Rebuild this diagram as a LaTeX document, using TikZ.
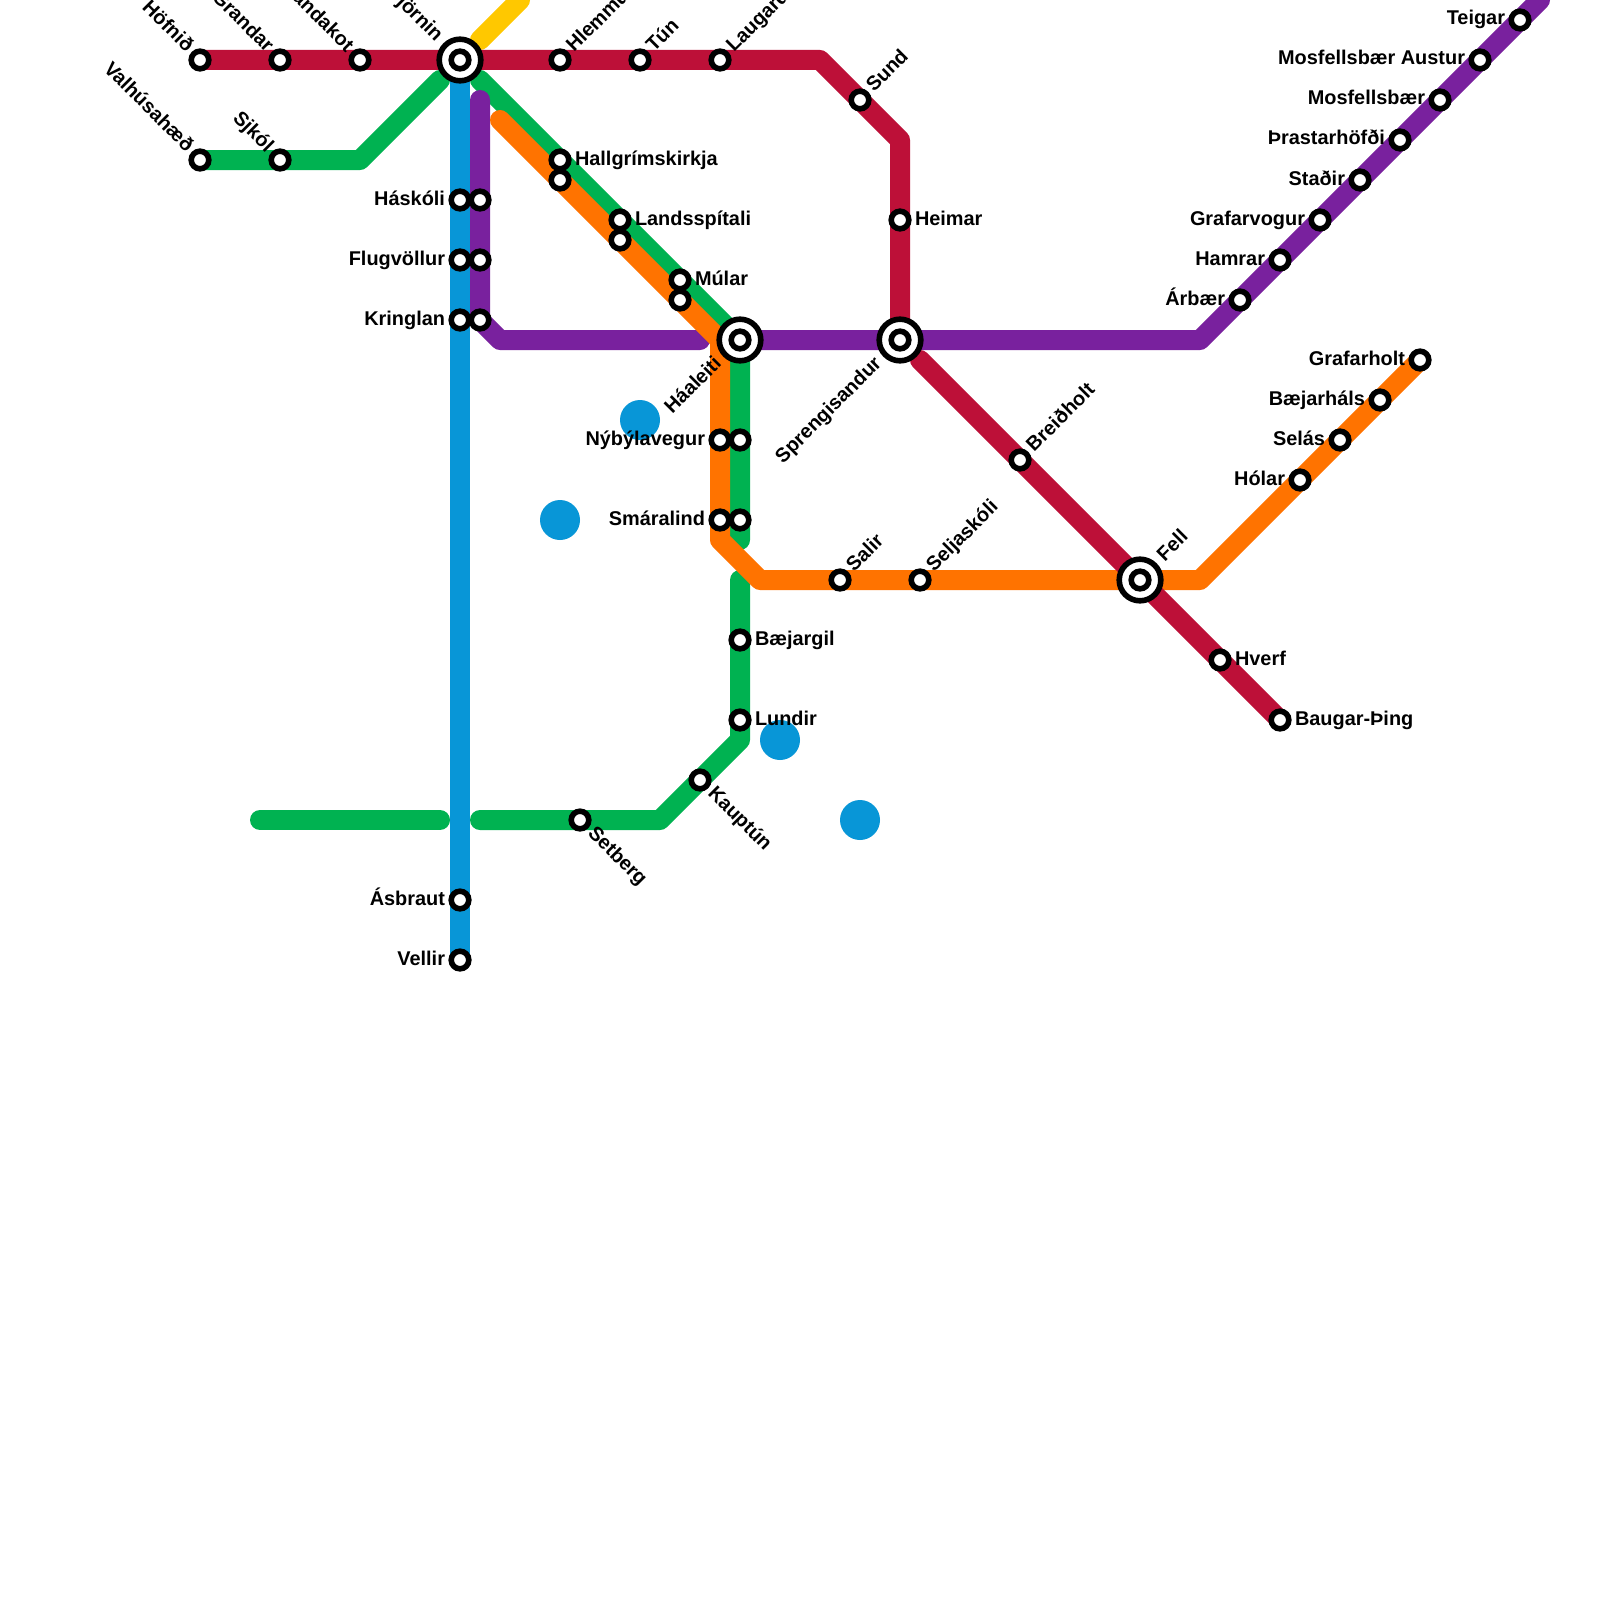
\documentclass[tikz,border=0pt]{standalone}
\usepackage{fontspec}
\setmainfont{Liberation Sans}
\definecolor{cred}{HTML}{BD1038}
\definecolor{cgreen}{HTML}{00B251}
\definecolor{cblue}{HTML}{0896D7}
\definecolor{cpurple}{HTML}{79219E}
\definecolor{corange}{HTML}{FF7300}
\definecolor{cyellow}{HTML}{FFC800}
\tikzset{
  x=1pt,y=-1pt,
  metro/.style={line width=20pt,line cap=round,line join=round},
  stn/.style={circle,draw=black,fill=white,line width=5.6pt,minimum size=17.6pt,inner sep=0pt,outer sep=0pt},
  hub/.style={circle,draw=black,fill=white,line width=5.6pt,minimum size=41.6pt,inner sep=0pt,outer sep=0pt},
  bluedot/.style={circle,fill=cblue,minimum size=40pt,inner sep=0pt,outer sep=0pt},
  lbl/.style={font=\bfseries\fontsize{19.9pt}{22pt}\selectfont,inner sep=0pt,outer sep=0pt,text=black},
}
\newcommand{\lblR}[4]{\node[lbl,rotate=#3,anchor=base west] at ([shift={(#3:15pt)},shift={(#3-90:5pt)}]#1) {#2};}
\newcommand{\lblL}[4]{\node[lbl,rotate=#3,anchor=base east] at ([shift={(#3+180:15pt)},shift={(#3-90:5pt)}]#1) {#2};}
\newcommand{\lblRH}[3]{\node[lbl,rotate=#3,anchor=base west] at ([shift={(#3:30pt)},shift={(#3-90:5pt)}]#1) {#2};}
\newcommand{\lblLH}[3]{\node[lbl,rotate=#3,anchor=base east] at ([shift={(#3+180:30pt)},shift={(#3-90:5pt)}]#1) {#2};}
\begin{document}
\begin{tikzpicture}
\useasboundingbox (0,0) rectangle (1600,1600);
\clip (0,0) rectangle (1600,1600);
\fill[white] (0,0) rectangle (1600,1600);
% blue dots
\node[bluedot] (d1) at (640,420) {};
\node[bluedot] (d2) at (560,520) {};
\node[bluedot] (d3) at (780,740) {};
\node[bluedot] (d4) at (860,820) {};
% lines
\draw[metro,cblue] (460,60) -- (460,960);
\draw[metro,cyellow] (480,40) -- (520,0);
\draw[metro,cgreen] (200,160) -- (360,160) -- (440,80);
\draw[metro,cgreen] (480,80) -- (740,340) -- (740,540);
\draw[metro,cgreen] (740,580) -- (740,740) -- (660,820) -- (480,820);
\draw[metro,cgreen] (260,820) -- (440,820);
\draw[metro,cpurple] (480,100) -- (480,320) -- (500,340) -- (700,340);
\draw[metro,cpurple] (760,340) -- (1200,340) -- (1540,0);
\draw[metro,corange] (500,120) -- (720,340) -- (720,540) -- (760,580) -- (1200,580) -- (1420,360);
\draw[metro,cred] (200,60) -- (820,60) -- (900,140) -- (900,320);
\draw[metro,cred] (920,360) -- (1280,720);
% hubs
\node[hub] (tjornin) at (460,60) {};
\node[hub] (haaleiti) at (740,340) {};
\node[hub] (spreng) at (900,340) {};
\node[hub] (fell) at (1140,580) {};
% stations
\foreach \n/\x/\y in {hofn/200/60,grandar/280/60,landakot/360/60,tj/460/60,hlemm/560/60,tun/640/60,laugar/720/60,sund/860/100,heimar/900/220,sp/900/340,breid/1020/460,fe/1140/580,hverf/1220/660,baugar/1280/720,
 valh/200/160,sjkol/280/160,hall/560/160,hallb/560/180,land/620/220,landb/620/240,mular/680/280,mularb/680/300,ha/740/340,
 nybA/720/440,nybB/740/440,smaA/720/520,smaB/740/520,baej/740/640,lund/740/720,kaup/700/780,setb/580/820,
 hask/460/200,haskB/480/200,flug/460/260,flugB/480/260,kring/460/320,kringB/480/320,asb/460/900,vell/460/960,
 salir/840/580,selj/920/580,holar/1300/480,selas/1340/440,baejh/1380/400,grafh/1420/360,
 arb/1240/300,hamr/1280/260,grafv/1320/220,stad/1360/180,thra/1400/140,mosf/1440/100,mosfa/1480/60,teig/1520/20}
  {\node[stn] (\n) at (\x,\y) {};}
% labels
\lblL{hofn}{Höfnið}{-45}{}
\lblL{grandar}{Grandar}{-45}{}
\lblL{landakot}{Landakot}{-45}{}
\lblLH{tjornin}{Tjörnin}{-45}
\lblR{hlemm}{Hlemmur}{45}{}
\lblR{tun}{Tún}{45}{}
\lblR{laugar}{Laugardalur}{45}{}
\lblR{sund}{Sund}{45}{}
\lblR{heimar}{Heimar}{0}{}
\lblLH{spreng}{Sprengisandur}{45}
\lblR{breid}{Breiðholt}{45}{}
\lblRH{fell}{Fell}{45}
\lblR{hverf}{Hverf}{0}{}
\lblR{baugar}{Baugar-Þing}{0}{}
\lblL{valh}{Valhúsahæð}{-45}{}
\lblL{sjkol}{Sjkól}{-45}{}
\lblR{hall}{Hallgrímskirkja}{0}{}
\lblR{land}{Landsspítali}{0}{}
\lblR{mular}{Múlar}{0}{}
\lblLH{haaleiti}{Háaleiti}{45}
\lblL{nybA}{Nýbýlavegur}{0}{}
\lblL{smaA}{Smáralind}{0}{}
\lblR{baej}{Bæjargil}{0}{}
\lblR{lund}{Lundir}{0}{}
\lblR{kaup}{Kauptún}{-45}{}
\lblR{setb}{Setberg}{-45}{}
\lblL{hask}{Háskóli}{0}{}
\lblL{flug}{Flugvöllur}{0}{}
\lblL{kring}{Kringlan}{0}{}
\lblL{asb}{Ásbraut}{0}{}
\lblL{vell}{Vellir}{0}{}
\lblR{salir}{Salir}{45}{}
\lblR{selj}{Seljaskóli}{45}{}
\lblL{holar}{Hólar}{0}{}
\lblL{selas}{Selás}{0}{}
\lblL{baejh}{Bæjarháls}{0}{}
\lblL{grafh}{Grafarholt}{0}{}
\lblL{arb}{Árbær}{0}{}
\lblL{hamr}{Hamrar}{0}{}
\lblL{grafv}{Grafarvogur}{0}{}
\lblL{stad}{Staðir}{0}{}
\lblL{thra}{Þrastarhöfði}{0}{}
\lblL{mosf}{Mosfellsbær}{0}{}
\lblL{mosfa}{Mosfellsbær Austur}{0}{}
\lblL{teig}{Teigar}{0}{}
\end{tikzpicture}
\end{document}
